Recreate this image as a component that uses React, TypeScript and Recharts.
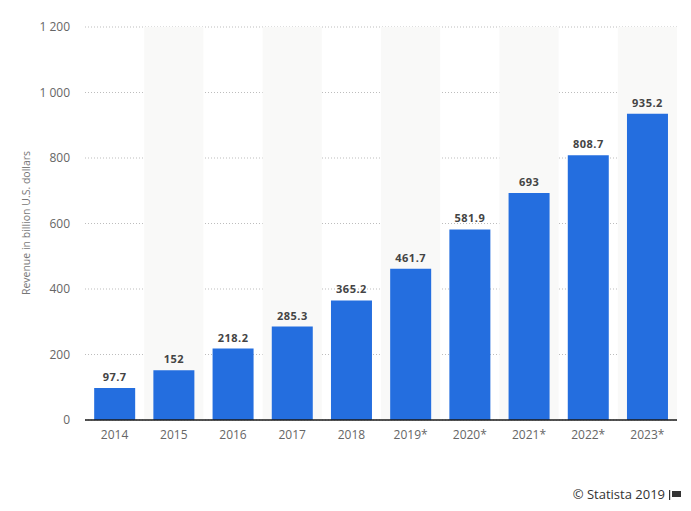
import React from "react";
import { BarChart, Bar, XAxis, YAxis, CartesianGrid, LabelList, ReferenceArea } from "recharts";

const categories = ["2014", "2015", "2016", "2017", "2018", "2019*", "2020*", "2021*", "2022*", "2023*"];
const revenue = [97.7, 152, 218.2, 285.3, 365.2, 461.7, 581.9, 693, 808.7, 935.2];
const yTicks = [0, 200, 400, 600, 800, 1000, 1200];

const data = categories.map((c, i) => ({ year: c, value: revenue[i] }));
const shadedYears = categories.filter((_, i) => i % 2 === 1);

const fmt = (v: number) => String(v).replace(/\B(?=(\d{3})+(?!\d))/g, " ");

const FONT = "'Open Sans', 'DejaVu Sans', sans-serif";

export default function App() {
  return (
    <div style={{ position: "absolute", left: 0, top: 0, width: 691, height: 511, background: "#fff", fontFamily: FONT }}>
      <BarChart
        width={691}
        height={511}
        data={data}
        margin={{ top: 27, right: 14, bottom: 61, left: 0 }}
        barCategoryGap="15.5%"
      >
        {shadedYears.map((y) => (
          <ReferenceArea key={y} x1={y} x2={y} fill="#f9f9f8" fillOpacity={1} stroke="none" ifOverflow="visible" />
        ))}
        <CartesianGrid vertical={false} stroke="#bdbdbd" strokeDasharray="1 2" />
        <XAxis
          dataKey="year"
          height={30}
          axisLine={{ stroke: "#1a1a1a", strokeWidth: 1.5 }}
          tickLine={false}
          tickSize={0}
          tickMargin={10}
          tick={{ fill: "#666", fontSize: 12, fontFamily: FONT }}
          interval={0}
        />
        <YAxis
          width={85}
          domain={[0, 1200]}
          ticks={yTicks}
          axisLine={false}
          tickLine={false}
          tickSize={0}
          tickMargin={15}
          tickFormatter={fmt}
          tick={{ fill: "#666", fontSize: 12, fontFamily: FONT }}
        />
        <Bar dataKey="value" fill="#246edf" isAnimationActive={false}>
          <LabelList
            dataKey="value"
            position="top"
            offset={7}
            style={{ fill: "#444", fontSize: 11, fontWeight: 700, letterSpacing: 0.5, fontFamily: FONT }}
          />
        </Bar>
      </BarChart>
      <div
        style={{
          position: "absolute",
          left: 26,
          top: 223,
          transform: "translate(-50%, -50%) rotate(-90deg)",
          whiteSpace: "nowrap",
          fontSize: 10.5,
          color: "#777",
          fontFamily: FONT,
        }}
      >
        Revenue in billion U.S. dollars
      </div>
      <div
        style={{
          position: "absolute",
          right: 26,
          top: 485,
          whiteSpace: "nowrap",
          fontSize: 13,
          color: "#333",
          fontFamily: FONT,
        }}
      >
        © Statista 2019
      </div>
      <svg style={{ position: "absolute", left: 669, top: 490 }} width={14} height={10}>
        <rect x={0} y={0} width={1.2} height={10} fill="#333" />
        <rect x={3} y={1} width={9} height={6} fill="#333" />
      </svg>
    </div>
  );
}
